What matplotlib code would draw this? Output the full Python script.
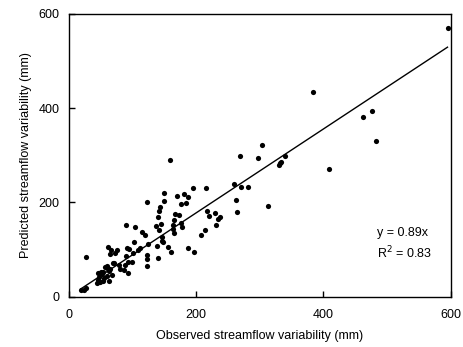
import matplotlib
matplotlib.use("Agg")
import matplotlib.pyplot as plt
import numpy as np

plt.rcParams['font.family'] = ['Liberation Sans', 'DejaVu Sans']

observed = [595, 383.6, 462.8, 476.4, 482.2, 408.8, 304, 268.3, 297.2, 339.6,
            333.3, 331.2, 329.7, 312.4, 259.4, 270.4, 281.4, 262, 264.7, 215.4,
            216.5, 219.6, 230.1, 233.8, 238, 230.6, 213.3, 207, 196, 186.6,
            159.3, 195, 187.6, 180.3, 170.3, 149.9, 149.9, 184.5, 176.6, 142.6,
            141.5, 167.2, 172.4, 139.4, 144.1, 136.8, 141.5, 165.1, 163.1, 163.1,
            175.6, 178.2, 165.1, 122.1, 90.1, 103.2, 115.3, 119.5, 146.8, 146.8,
            148.3, 138.9, 155.1, 160.9, 139.9, 124.2, 111.1, 108.5, 102.7, 101.2,
            122.1, 123.2, 122.6, 91.7, 94.9, 90.1, 93.1, 98.9, 87.5, 80.7,
            86, 92.2, 74.9, 61.8, 64.5, 70.2, 64.5, 63.4, 26.2, 46.1,
            47.7, 45.1, 48.7, 51.4, 54, 55.6, 59.2, 57.1, 60.3, 63.4,
            67.1, 43.5, 52.9, 49.8, 19, 23.6, 26.2, 65.5, 72.3, 68.7,
            79, 59.3]
predicted = [570, 433.7, 380.7, 394, 329.7, 271, 322.6, 299.3, 294.3, 299.3,
             285.9, 283, 278.8, 191.8, 239.2, 232.8, 232.8, 205.9, 179.7, 230,
             182.6, 171.9, 177.6, 164.9, 168.4, 151.4, 142.2, 130.9, 94.1, 102.6,
             290.1, 230.7, 212.3, 218.6, 213, 220.8, 203.8, 198.1, 196, 191,
             181.1, 174.8, 173.4, 169.1, 155, 150.7, 141.5, 162.7, 151.4, 142.9,
             155.7, 147.2, 135.1, 201, 152.8, 148.6, 137.3, 131.6, 125.9, 118.9,
             116, 107.5, 105.4, 94.1, 81.4, 111.8, 102.6, 99.1, 115.3, 93.4,
             89.2, 80, 65.8, 103.3, 100.5, 86.3, 74.3, 72.9, 66.5, 59.4,
             56.6, 49.5, 99.8, 104.7, 89.9, 70.8, 58, 32.5, 83.5, 50.9,
             42.5, 35.4, 31.8, 47.4, 53.1, 38.9, 43.9, 63.7, 60.1, 55.2,
             45.3, 29.7, 34, 53.1, 14, 14, 17.7, 99.4, 93.6, 71,
             67, 65.3]

slope = 0.89
r2 = 0.83
x_ticks = [0, 200, 400, 600]
y_ticks = [0, 200, 400, 600]

fs = 9
fig = plt.figure(figsize=(4.64, 3.47), dpi=100)
ax = fig.add_axes([0.1487, 0.145, 0.8226, 0.8147])

ax.scatter(observed, predicted, s=14, color='black', zorder=3, linewidths=0)
xl = np.array([min(observed), max(observed)])
ax.plot(xl, slope * xl, color='black', linewidth=1.0)

ax.set_xlim(0, 600)
ax.set_ylim(0, 600)
ax.set_xticks(x_ticks)
ax.set_yticks(y_ticks)
ax.tick_params(direction='in', length=4, width=1, labelsize=fs)
ax.tick_params(axis='x', pad=9)
ax.tick_params(axis='y', pad=7)
for sp in ax.spines.values():
    sp.set_linewidth(1.0)

ax.set_xlabel('Observed streamflow variability (mm)', fontsize=fs)
ax.set_ylabel('Predicted streamflow variability (mm)', fontsize=fs)
ax.xaxis.set_label_coords(0.5, -0.118)
ax.yaxis.set_label_coords(-0.097, 0.5)

ax.text(0.806, 0.185, f'y = {slope}x\nR$^2$ = {r2}', transform=ax.transAxes,
        fontsize=fs, ha='left', va='center', linespacing=1.45)

fig.savefig('out.png', dpi=100)
